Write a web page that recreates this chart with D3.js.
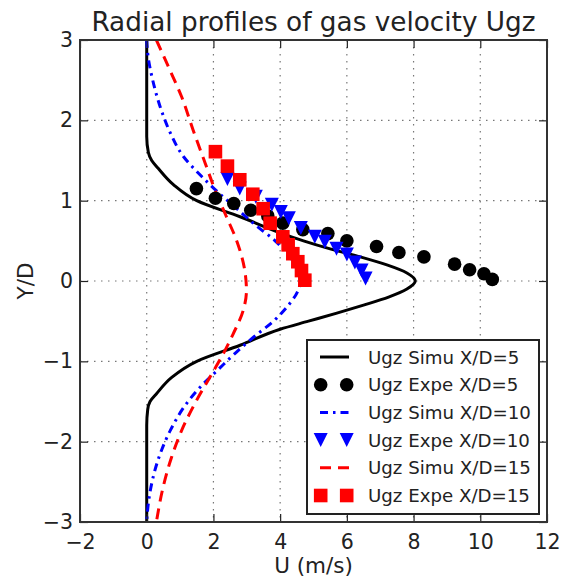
<!DOCTYPE html>
<html>
<head>
<meta charset="utf-8">
<script src="https://cdn.jsdelivr.net/npm/d3@7/dist/d3.min.js"></script>
<style>
  body { margin: 0; background: #fff; }
  text { font-family: "DejaVu Sans", sans-serif; fill: #222; }
</style>
</head>
<body>
<script>
(function(){

	// axis ticks
	var xTicks = [-2, 0, 2, 4, 6, 8, 10, 12];
	var yTicks = [-3, -2, -1, 0, 1, 2, 3];

	// simulation X/D=5 (Y from top to bottom)
	var simu5Y = [3, 1.8, 1.6, 1.5, 1.4, 1.2, 1.0, 0.8, 0.6, 0.5, 0.4, 0.3, 0.2, 0.1, 0,
		-0.1, -0.2, -0.3, -0.4, -0.5, -0.6, -0.8, -1.0, -1.2, -1.4, -1.5, -1.6, -1.8, -3];
	var simu5U = [0, 0, 0.05, 0.15, 0.35, 0.8, 1.5, 2.8, 4.0, 4.7, 5.5, 6.4, 7.2, 7.8, 8.05,
		7.8, 7.25, 6.5, 5.7, 4.85, 4.0, 2.8, 1.5, 0.75, 0.3, 0.1, 0.03, 0, 0];

	// simulation X/D=10
	var simu10Y = [3, 2.8, 2.5, 2.1, 1.85, 1.55, 1.3, 1.1, 0.9, 0.7, 0.5, 0.3, 0.15, 0,
		-0.15, -0.3, -0.5, -0.7, -0.9, -1.1, -1.3, -1.55, -1.85, -2.1, -2.5, -2.8, -3];
	var simu10U = [0, 0.04, 0.18, 0.46, 0.7, 1.1, 1.65, 2.15, 2.7, 3.25, 3.85, 4.3, 4.5, 4.6,
		4.5, 4.25, 3.8, 3.2, 2.65, 2.15, 1.65, 1.15, 0.72, 0.45, 0.16, 0.04, 0];

	// simulation X/D=15
	var simu15Y = [3, 2.63, 2.3, 1.88, 1.47, 1.09, 0.8, 0.51, 0.13, -0.12, -0.37, -0.66,
		-0.91, -1.2, -1.49, -1.82, -2.2, -2.57, -3];
	var simu15U = [0.29, 0.69, 1.04, 1.39, 1.75, 2.09, 2.39, 2.69, 2.94, 2.99, 2.89, 2.59,
		2.29, 1.89, 1.49, 1.09, 0.74, 0.49, 0.29];

	// experiments
	var expe5U = [1.49, 2.06, 2.61, 3.12, 3.63, 4.08, 4.68, 5.43, 6.0, 6.89, 7.56, 8.31, 9.23, 9.68, 10.11, 10.36];
	var expe5Y = [1.15, 1.03, 0.965, 0.88, 0.81, 0.72, 0.64, 0.59, 0.5, 0.43, 0.355, 0.3, 0.21, 0.14, 0.09, 0.02];

	var expe10U = [2.42, 2.79, 3.27, 3.75, 4.02, 4.26, 4.62, 5.04, 5.34, 5.69, 6.0, 6.24, 6.44, 6.56];
	var expe10Y = [1.27, 1.15, 1.05, 0.95, 0.86, 0.78, 0.66, 0.55, 0.49, 0.40, 0.33, 0.23, 0.13, 0.03];

	var expe15U = [2.06, 2.42, 2.79, 3.18, 3.49, 3.70, 4.08, 4.24, 4.38, 4.53, 4.64, 4.74];
	var expe15Y = [1.61, 1.43, 1.26, 1.08, 0.90, 0.72, 0.55, 0.45, 0.34, 0.24, 0.13, 0.01];

	var legendLabels = ["Ugz Simu X/D=5", "Ugz Expe X/D=5", "Ugz Simu X/D=10",
		"Ugz Expe X/D=10", "Ugz Simu X/D=15", "Ugz Expe X/D=15"];

	const SVG_WIDTH = 561;
	const SVG_HEIGHT = 577;
	const LEFT = 80, RIGHT = 547, TOP = 40, BOTTOM = 522;
	const TICK = 8;

	var x = d3.scaleLinear().domain([-2, 12]).range([LEFT, RIGHT]);
	var y = d3.scaleLinear().domain([-3, 3]).range([BOTTOM, TOP]);
	var fmt = d3.format("d");

	var svg = d3.select("body").append("svg")
		.attr("width", SVG_WIDTH).attr("height", SVG_HEIGHT);

	svg.append("rect").attr("width", SVG_WIDTH).attr("height", SVG_HEIGHT).attr("fill", "#fff");

	// grid
	var grid = svg.append("g").attr("class", "grid");
	grid.selectAll("line.gx").data(xTicks.slice(1, -1)).enter().append("line")
		.attr("x1", d => x(d)).attr("x2", d => x(d))
		.attr("y1", TOP).attr("y2", BOTTOM);
	grid.selectAll("line.gy").data(yTicks.slice(1, -1)).enter().append("line")
		.attr("x1", LEFT).attr("x2", RIGHT)
		.attr("y1", d => y(d)).attr("y2", d => y(d));
	grid.selectAll("line")
		.attr("stroke", "#777").attr("stroke-width", 1.2)
		.attr("stroke-dasharray", "1.5,5.5");

	var plot = svg.append("g");
	plot.append("clipPath").attr("id", "clip").append("rect")
		.attr("x", LEFT).attr("y", TOP).attr("width", RIGHT - LEFT).attr("height", BOTTOM - TOP);
	var inner = plot.append("g").attr("clip-path", "url(#clip)");

	var line = d3.line()
		.x(d => x(d[0])).y(d => y(d[1]))
		.curve(d3.curveMonotoneY);

	function zip(u, v){ return u.map((d, i) => [d, v[i]]); }

	var simus = [
		{ pts: zip(simu5U, simu5Y), color: "#000", dash: null },
		{ pts: zip(simu10U, simu10Y), color: "#0000ff", dash: "8,5,2.5,5" },
		{ pts: zip(simu15U, simu15Y), color: "#ff0000", dash: "11,7" }
	];

	inner.selectAll("path.simu").data(simus).enter().append("path")
		.attr("class", "simu")
		.attr("d", d => line(d.pts))
		.attr("fill", "none")
		.attr("stroke", d => d.color)
		.attr("stroke-width", 3)
		.attr("stroke-dasharray", d => d.dash);

	var triPath = "M-7,-7L7,-7L0,7Z";

	// experimental points, drawn in legend order
	inner.selectAll("circle.e5").data(zip(expe5U, expe5Y)).enter().append("circle")
		.attr("cx", d => x(d[0])).attr("cy", d => y(d[1])).attr("r", 6.8)
		.attr("fill", "#000");

	inner.selectAll("path.e10").data(zip(expe10U, expe10Y)).enter().append("path")
		.attr("d", triPath)
		.attr("transform", d => "translate(" + x(d[0]) + "," + y(d[1]) + ")")
		.attr("fill", "#0000ff");

	inner.selectAll("rect.e15").data(zip(expe15U, expe15Y)).enter().append("rect")
		.attr("x", d => x(d[0]) - 6.8).attr("y", d => y(d[1]) - 6.8)
		.attr("width", 13.6).attr("height", 13.6)
		.attr("fill", "#ff0000");

	// axes with inward ticks
	function styleAxis(g){
		g.select(".domain").remove();
		g.selectAll(".tick line").attr("stroke", "#222").attr("stroke-width", 1.2);
		g.selectAll("text").style("font-size", "20.5px").attr("fill", "#222");
	}

	svg.append("g").attr("transform", "translate(0," + BOTTOM + ")")
		.call(d3.axisBottom(x).tickValues(xTicks).tickFormat(fmt).tickSize(-TICK).tickPadding(12))
		.call(styleAxis);
	svg.append("g").attr("transform", "translate(0," + TOP + ")")
		.call(d3.axisTop(x).tickValues(xTicks).tickSize(-TICK).tickFormat(""))
		.call(styleAxis);
	svg.append("g").attr("transform", "translate(" + LEFT + ",0)")
		.call(d3.axisLeft(y).tickValues(yTicks).tickFormat(fmt).tickSize(-TICK).tickPadding(7))
		.call(styleAxis);
	svg.append("g").attr("transform", "translate(" + RIGHT + ",0)")
		.call(d3.axisRight(y).tickValues(yTicks).tickSize(-TICK).tickFormat(""))
		.call(styleAxis);

	svg.append("rect")
		.attr("x", LEFT).attr("y", TOP).attr("width", RIGHT - LEFT).attr("height", BOTTOM - TOP)
		.attr("fill", "none").attr("stroke", "#333").attr("stroke-width", 2);

	// titles
	svg.append("text").attr("x", (LEFT + RIGHT) / 2).attr("y", 31)
		.attr("text-anchor", "middle").style("font-size", "26.3px")
		.text("Radial profiles of gas velocity Ugz");
	svg.append("text").attr("x", (LEFT + RIGHT) / 2).attr("y", 573)
		.attr("text-anchor", "middle").style("font-size", "21.5px")
		.text("U (m/s)");
	svg.append("text").attr("transform", "translate(33," + ((TOP + BOTTOM) / 2) + ") rotate(-90)")
		.attr("text-anchor", "middle").style("font-size", "21.5px")
		.text("Y/D");

	// legend
	var legend = svg.append("g");
	legend.append("rect").attr("x", 307).attr("y", 340).attr("width", 232).attr("height", 174)
		.attr("fill", "#fff").attr("stroke", "#222").attr("stroke-width", 2);

	var rows = legend.selectAll("g.row").data(legendLabels).enter().append("g")
		.attr("transform", (d, i) => "translate(0," + (357 + i * 27.7) + ")");

	rows.append("text").attr("x", 368).attr("dy", "0.36em")
		.style("font-size", "18.2px").text(d => d);

	rows.each(function(d, i){
		var r = d3.select(this);
		if (i === 0 || i === 2 || i === 4) {
			var s = simus[i / 2];
			r.append("line").attr("x1", 320).attr("x2", 349).attr("y1", 0).attr("y2", 0)
				.attr("stroke", s.color).attr("stroke-width", 3)
				.attr("stroke-dasharray", s.dash);
		} else {
			[320.7, 346.7].forEach(function(mx){
				if (i === 1) r.append("circle").attr("cx", mx).attr("r", 6.8).attr("fill", "#000");
				if (i === 3) r.append("path").attr("d", triPath).attr("transform", "translate(" + mx + ",0)").attr("fill", "#0000ff");
				if (i === 5) r.append("rect").attr("x", mx - 6.8).attr("y", -6.8).attr("width", 13.6).attr("height", 13.6).attr("fill", "#ff0000");
			});
		}
	});

})();
</script>
</body>
</html>
